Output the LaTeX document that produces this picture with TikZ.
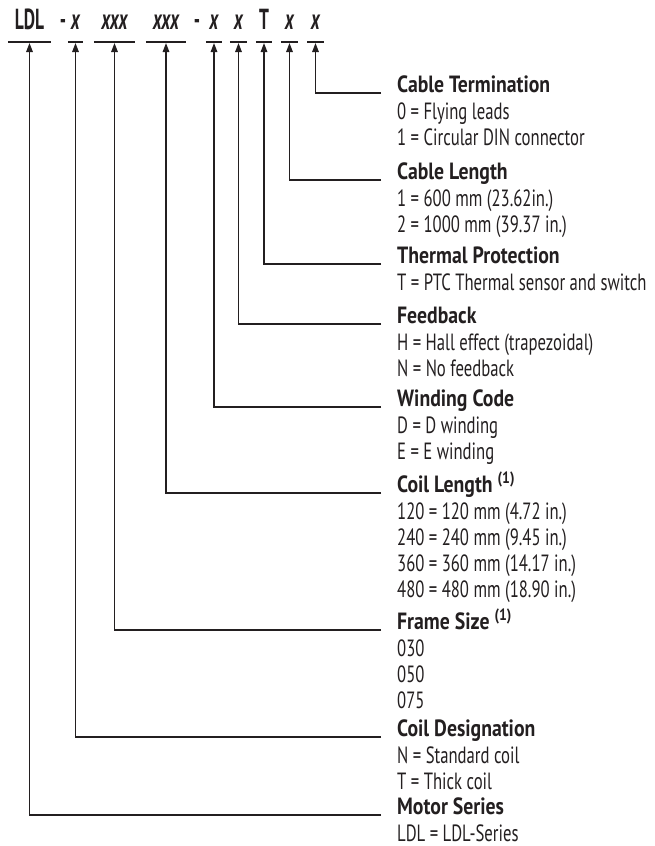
\documentclass[tikz,border=0pt]{standalone}
\usepackage{fontspec}
\setmainfont{PT Sans}[FakeStretch=0.71]
\newfontfamily\headfont{PT Sans}[FakeStretch=0.84]
\newfontfamily\codefont{PT Sans}[FakeStretch=0.6]
\usepackage{tikz}
\usetikzlibrary{arrows.meta,positioning}
\definecolor{inkblack}{HTML}{231F20}
\newcommand{\descsize}{\fontsize{23.5}{26}\selectfont}
\newcommand{\codesize}{\fontsize{29}{29}\selectfont}
\newcommand{\heading}[1]{\rule{0pt}{18pt}{\headfont\bfseries #1}}

\begin{document}
\begin{tikzpicture}[x=1pt, y=-1pt, >={Triangle[length=9pt,width=6.5pt]},
  every node/.style={text=inkblack},
  field/.style={anchor=base, font=\codefont\codesize\bfseries, inner xsep=0pt, inner ysep=13pt, text depth=0pt},
  desc/.style={anchor=north west, align=left, inner sep=0pt, font=\descsize},
  uline/.style={line width=1.6pt, inkblack},
  pointer/.style={->, line width=1.5pt, inkblack, shorten >=0.8pt}]
  \useasboundingbox (0,0) rectangle (655,846);

  % catalogue number
  \node[field, minimum width=43pt] (series) at (29.5,29) {LDL};
  \node[field] (dashA) at (63,29) {-};
  \node[field, minimum width=15pt] (coil) at (75.5,29) {\itshape x};
  \node[field, minimum width=41pt] (frame) at (114.5,29) {\itshape xxx};
  \node[field, minimum width=40pt] (length) at (166,29) {\itshape xxx};
  \node[field] (dashB) at (197,29) {-};
  \node[field, minimum width=16pt] (winding) at (214,29) {\itshape x};
  \node[field, minimum width=17pt] (feedback) at (238.5,29) {\itshape x};
  \node[field, minimum width=16pt] (thermal) at (264,29) {T};
  \node[field, minimum width=17pt] (cable) at (289.5,29) {\itshape x};
  \node[field, minimum width=16pt] (termination) at (315.5,29) {\itshape x};

  \foreach \f in {series,coil,frame,length,winding,feedback,thermal,cable,termination}
    \draw[uline] (\f.south west) -- (\f.south east);

  % option lists
  \node[desc] (terminationD) at (397,74) {\heading{Cable Termination}\\[1pt]
    0 = Flying leads\\1 = Circular DIN connector};
  \node[desc] (cableD) at (397,161) {\heading{Cable Length}\\[1pt]
    1 = 600 mm (23.62in.)\\2 = 1000 mm (39.37 in.)};
  \node[desc] (thermalD) at (397,245) {\heading{Thermal Protection}\\[1pt]
    T = PTC Thermal sensor and switch};
  \node[desc] (feedbackD) at (397,305) {\heading{Feedback}\\[1pt]
    H = Hall effect (trapezoidal)\\N = No feedback};
  \node[desc] (windingD) at (397,388) {\heading{Winding Code}\\[1pt]
    D = D winding\\E = E winding};
  \node[desc] (lengthD) at (397,474) {\heading{Coil Length \smash{\textsuperscript{(1)}}}\\[1pt]
    120 = 120 mm (4.72 in.)\\240 = 240 mm (9.45 in.)\\360 = 360 mm (14.17 in.)\\480 = 480 mm (18.90 in.)};
  \node[desc] (frameD) at (397,611) {\heading{Frame Size \smash{\textsuperscript{(1)}}}\\[1pt]
    030\\050\\075};
  \node[desc] (coilD) at (397,718) {\heading{Coil Designation}\\[1pt]
    N = Standard coil\\T = Thick coil};
  \node[desc] (seriesD) at (397,796) {\heading{Motor Series}\\[1pt]
    LDL = LDL-Series};

  \draw[pointer] ([xshift=-16pt,yshift=-19pt]terminationD.north west) -| (termination.south);
  \draw[pointer] ([xshift=-16pt,yshift=-19pt]cableD.north west) -| (cable.south);
  \draw[pointer] ([xshift=-16pt,yshift=-19pt]thermalD.north west) -| (thermal.south);
  \draw[pointer] ([xshift=-16pt,yshift=-19pt]feedbackD.north west) -| (feedback.south);
  \draw[pointer] ([xshift=-16pt,yshift=-19pt]windingD.north west) -| (winding.south);
  \draw[pointer] ([xshift=-16pt,yshift=-19pt]lengthD.north west) -| (length.south);
  \draw[pointer] ([xshift=-16pt,yshift=-19pt]frameD.north west) -| (frame.south);
  \draw[pointer] ([xshift=-16pt,yshift=-19pt]coilD.north west) -| (coil.south);
  \draw[pointer] ([xshift=-16pt,yshift=-19pt]seriesD.north west) -| (series.south);
\end{tikzpicture}
\end{document}
